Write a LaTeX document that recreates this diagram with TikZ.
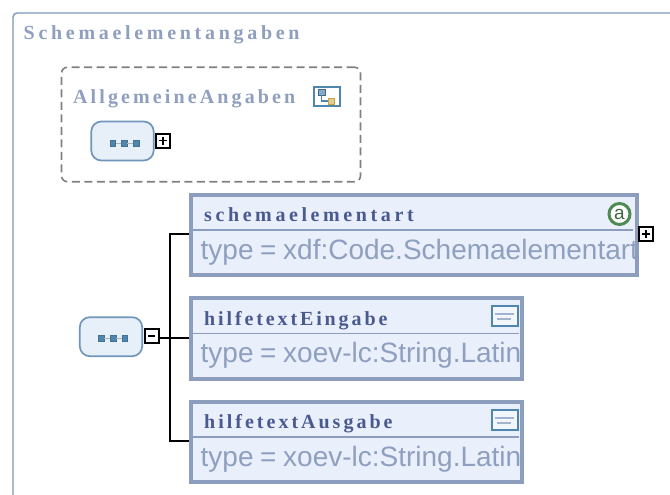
\documentclass[tikz,border=0pt]{standalone}
\usepackage{fontspec}
\setmainfont{Liberation Serif}
\newfontfamily\typefont[WordSpace=0.85]{Liberation Sans}
\definecolor{frameblue}{HTML}{7F97BC}
\definecolor{titleblue}{HTML}{8F9FC0}
\definecolor{boxborder}{HTML}{8C9DBE}
\definecolor{boxfill}{HTML}{E9F0FB}
\definecolor{namecol}{HTML}{4A5A90}
\definecolor{seqfill}{HTML}{E7EFF8}
\definecolor{seqline}{HTML}{7196BB}
\definecolor{iconblue}{HTML}{4F86AE}
\definecolor{icongold}{HTML}{C9A23C}
\definecolor{icongreen}{HTML}{4F8A55}
\tikzset{
  groupttl/.style={anchor=base west,inner sep=0pt,text=titleblue,font=\fontsize{20}{23}\selectfont\bfseries\addfontfeature{LetterSpace=#1}},
  elembox/.style={draw=boxborder,line width=4pt,fill=boxfill,inner sep=0pt,outer sep=auto,minimum height=80.3pt},
  elemname/.style={anchor=base west,inner sep=0pt,text=namecol,font=\fontsize{20}{23}\selectfont\bfseries\addfontfeature{LetterSpace=#1}},
  typetext/.style={anchor=base west,inner sep=0pt,text=titleblue,font=\fontsize{28}{32}\typefont},
  sepline/.style={draw=boxborder,line width=1.2pt},
  seqbox/.style={draw=seqline,line width=1.7pt,fill=seqfill,rounded corners=10pt,minimum width=62.4pt,minimum height=39pt,inner sep=0pt},
  seqdot/.style={draw=iconblue!85!black,fill=iconblue,minimum size=5.5pt,inner sep=0pt,line width=.5pt},
  seqlink/.style={draw=gray!60,line width=1pt},
  toggle/.style={draw=black,fill=white,line width=2pt,minimum size=14pt,inner sep=0pt},
  wire/.style={draw=black,line width=2pt},
  iconframe/.style={draw=iconblue,line width=2.4pt,fill=white,minimum width=25.5pt,minimum height=19.5pt,inner sep=0pt},
}
\begin{document}
\begin{tikzpicture}[x=1pt,y=-1pt]
\useasboundingbox (0,0) rectangle (670,495);
\clip (0,0) rectangle (670,495);
\fill[white] (0,0) rectangle (670,495);
% outer group
\draw[frameblue,line width=1.4pt,rounded corners=4pt] (13,510) -- (13,13) -- (690,13);
\node[groupttl=18.5] (ttlouter) at (23.5,39.5) {Schemaelementangaben};
% dashed group
\node[draw=gray,dash pattern=on 8pt off 4.5pt,line width=1.6pt,rounded corners=6pt,minimum width=299pt,minimum height=114.5pt,inner sep=0pt] (dashgroup) at (211,124.5) {};
\node[groupttl=15.6] (ttlinner) at (73,103.5) {AllgemeineAngaben};
\node[iconframe] (choiceicon) at (327,96.5) {};
\node[draw=iconblue!80!black,fill=iconblue!70,minimum size=6.5pt,inner sep=0pt] (ic1) at (321.5,92) {};
\node[draw=icongold,fill=icongold!55,minimum size=6pt,inner sep=0pt] (ic2) at (331.5,101) {};
\draw[iconblue,line width=1.3pt] (ic1.south) |- (ic2.west);
% upper sequence
\node[seqbox] (seqA) at (122.5,141) {};
\node[seqdot] (a1) at (112.7,143) {};
\node[seqdot] (a2) at (124.3,143) {};
\node[seqdot] (a3) at (136,143) {};
\draw[seqlink] (a1) -- (a2);
\draw[seqlink] (a2) -- (a3);
\node[toggle] (plusA) at (163,140.5) {};
\draw[line width=1.8pt] (159,140.5) -- (167,140.5) (163,136.5) -- (163,144.5);
% lower sequence
\node[seqbox] (seqB) at (111,336.7) {};
\node[seqdot] (b1) at (101.3,338) {};
\node[seqdot] (b2) at (113,338) {};
\node[seqdot] (b3) at (124.7,338) {};
\draw[seqlink] (b1) -- (b2);
\draw[seqlink] (b2) -- (b3);
\node[toggle] (minusB) at (151.5,335.7) {};
\draw[line width=1.8pt] (148,335.7) -- (155,335.7);
% element boxes
\node[elembox,minimum width=445.4pt] (boxA) at (414,235.2) {};
\node[elembox,minimum width=330.7pt] (boxB) at (356.7,338.4) {};
\node[elembox,minimum width=330.7pt] (boxC) at (356.7,442.2) {};
% connectors
\coordinate (bus) at (170.3,337.5);
\coordinate (busA) at (170.3,234);
\coordinate (busC) at (170.3,441);
\draw[wire] (minusB.east |- bus) -- (bus -| boxB.west);
\draw[wire] (busA -| boxA.west) -- (busA) -- (busC) -- (busC -| boxC.west);
% separators
\draw[sepline] (192,230) -- (633,230);
\draw[sepline] (192,333.7) -- (519,333.7);
\draw[sepline] (192,437) -- (519,437);
% names
\node[elemname=18] (nameA) at (204,221.5) {schemaelementart};
\node[elemname=14.4] (nameB) at (204,325) {hilfetextEingabe};
\node[elemname=15] (nameC) at (204,428.3) {hilfetextAusgabe};
% types
\begin{scope}
\clip (190,232) rectangle (640,275);
\node[typetext] (typeA) at (200.5,259.5) {type = xdf:Code.Schemaelementart};
\end{scope}
\begin{scope}
\clip (190,336) rectangle (521,379);
\node[typetext] (typeB) at (200.5,362.7) {type = xoev-lc:String.Latin};
\end{scope}
\begin{scope}
\clip (190,439) rectangle (521,483);
\node[typetext] (typeC) at (200.5,466) {type = xoev-lc:String.Latin};
\end{scope}
% attribute icon
\node[circle,draw=icongreen,line width=3pt,fill=white,minimum size=21pt,inner sep=0pt,font=\fontsize{19}{19}\typefont,text=icongreen!75!black] (attr) at (619.5,214) {a};
% toggle on box A
\node[toggle] (plusC) at (646.2,234) {};
\draw[line width=1.8pt] (642.2,234) -- (650.2,234) (646.2,230) -- (646.2,238);
% element icons
\node[iconframe,fill=boxfill!60!white] (eicB) at (505,316) {};
\draw[titleblue!80,line width=2pt] (495,314) -- (514,314) (497,319) -- (511,319);
\node[iconframe,fill=boxfill!60!white] (eicC) at (505,420) {};
\draw[titleblue!80,line width=2pt] (495,418) -- (514,418) (497,423) -- (511,423);
\end{tikzpicture}
\end{document}
